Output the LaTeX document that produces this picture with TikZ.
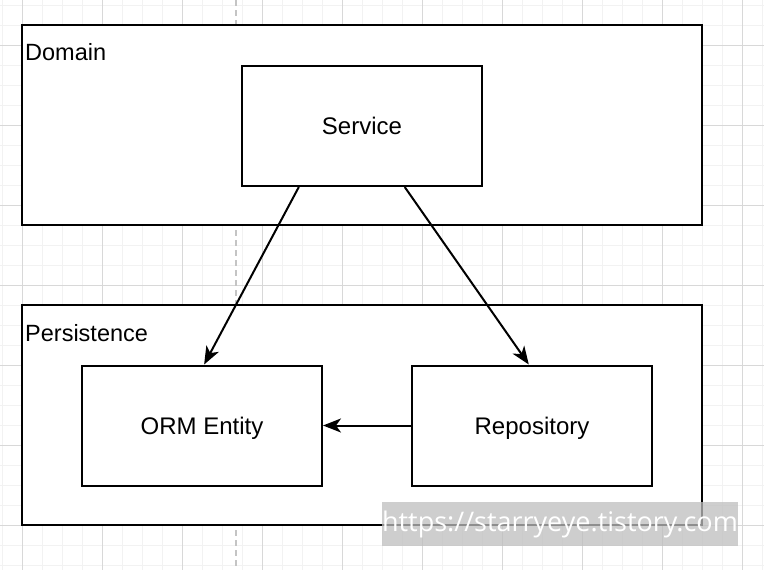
\documentclass[tikz,border=0pt]{standalone}
\usepackage{fontspec}
\setmainfont{Liberation Sans}
\newfontfamily\markfont{Open Sans}
\usepackage{tikz}
\usetikzlibrary{arrows.meta}
\definecolor{minorgrid}{HTML}{F2F2F2}
\definecolor{majorgrid}{HTML}{D8D8D8}
\definecolor{guide}{HTML}{C4C4C4}
\definecolor{markgray}{HTML}{BEBEBE}
\tikzset{layer/.style={draw, fill=white, line width=2pt, minimum width=680pt},
         box/.style={draw, fill=white, line width=2pt, minimum width=240pt, minimum height=120pt,
                     font=\fontsize{24}{28}\selectfont, text height=17pt, text depth=0pt},
         title/.style={anchor=base west, inner sep=0pt, font=\fontsize{23.5}{28}\selectfont},
         dep/.style={line width=2pt, -{Stealth[length=18pt, width=14pt, inset=5pt]}},
         x=1pt, y=-1pt}
\begin{document}
\begin{tikzpicture}
		\useasboundingbox (0,0) rectangle (764,570);
		\foreach \x in {2,22,...,762} \draw[minorgrid, line width=1pt] (\x,0) -- (\x,570);
		\foreach \y in {5,25,...,565} \draw[minorgrid, line width=1pt] (0,\y) -- (764,\y);
		\foreach \x in {22,102,...,742} \draw[majorgrid, line width=1pt] (\x,0) -- (\x,570);
		\foreach \y in {45,125,...,525} \draw[majorgrid, line width=1pt] (0,\y) -- (764,\y);
		\draw[guide, line width=1.5pt, dash pattern=on 6pt off 4pt] (236,0) -- (236,570);
		\node[layer, minimum height=200pt] (domain) at (362,125) {};
		\node[title] (domainlabel) at (25,60) {Domain};
		\node[box] (service) at (362,126) {Service};
		\node[layer, minimum height=220pt] (persistence) at (362,415) {};
		\node[title] (persistencelabel) at (25,341) {Persistence};
		\node[box] (orm) at (202,425.5) {ORM Entity};
		\node[box] (repo) at (532,425.5) {Repository};
		\draw[dep] (service.224) -- (orm.88);
		\draw[dep] (service.305.6) -- (repo.93);
		\draw[dep] (repo.west) -- (orm.east);
		\node[fill=markgray, fill opacity=0.75, text opacity=1, text=white, minimum width=356pt, minimum height=44pt,
		      inner sep=0pt, font=\markfont\fontsize{27}{31}\selectfont] (mark) at (560,524) {https://starryeye.tistory.com};
\end{tikzpicture}
\end{document}
